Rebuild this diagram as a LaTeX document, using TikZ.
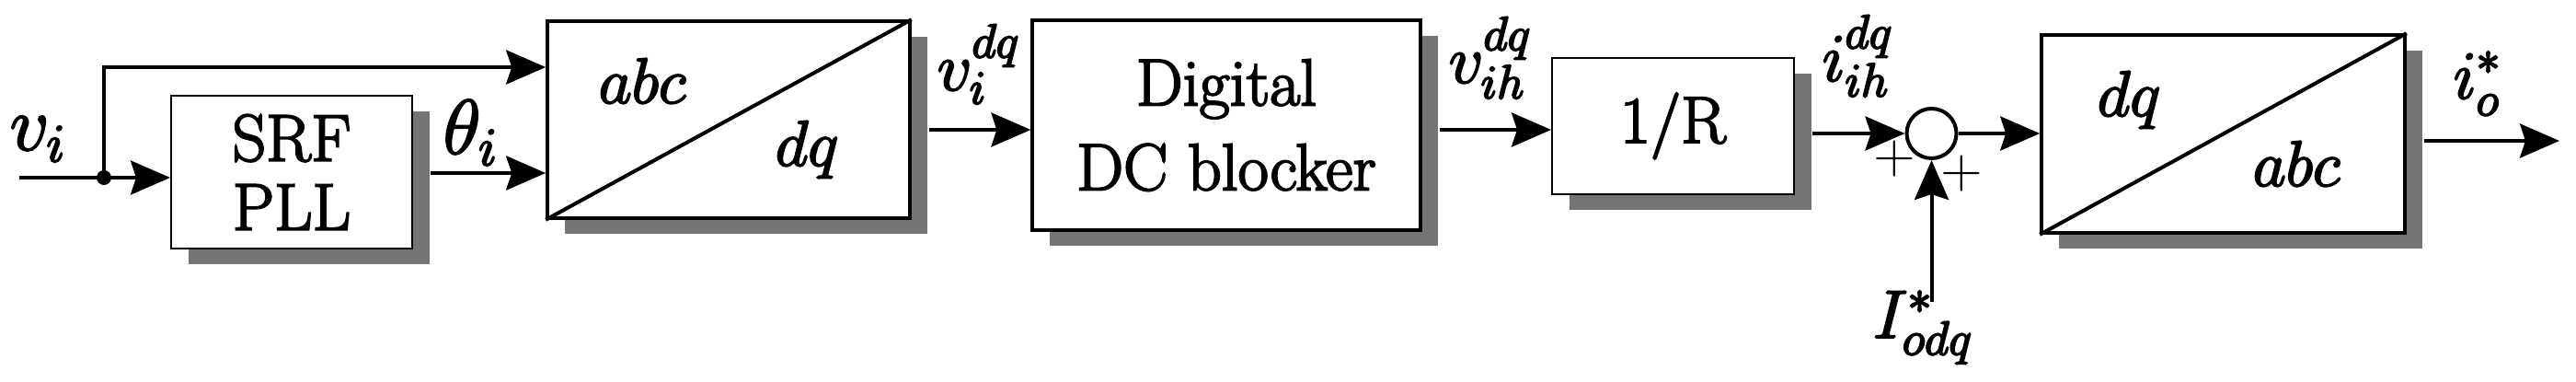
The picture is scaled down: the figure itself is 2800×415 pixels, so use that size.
\RequirePackage{fix-cm}
\documentclass[tikz,border=0pt]{standalone}
\usetikzlibrary{arrows.meta,shadows}
\begin{document}
\begin{tikzpicture}[x=0.25pt,y=-0.25pt,
  conn/.style={line width=1pt,-{Stealth[length=10.75pt,width=9.25pt,inset=1.5pt]}},
  blk/.style={draw,fill=white,inner sep=0pt,line width=#1,
     drop shadow={shadow xshift=4.75pt,shadow yshift=-4.25pt,opacity=1,fill=black!54}},
  blk/.default=0.5pt,
  heavy/.style={execute at begin node={\special{pdf:literal direct q 2 Tr 0.5 w}},
                execute at end node={\special{pdf:literal direct Q}}},
  boxtext/.style={heavy,font=\fontsize{18pt}{23pt}\selectfont,align=center},
  lbl/.style={heavy,inner sep=0pt,anchor=base west,font=\fontsize{18.5pt}{20pt}\selectfont},
  biglbl/.style={lbl,font=\fontsize{21pt}{22pt}\selectfont},
  conv/.style={heavy,inner sep=0pt,anchor=base west,font=\fontsize{17.5pt}{20pt}\selectfont},
  plus/.style={inner sep=0pt,font=\fontsize{15pt}{15pt}\selectfont},
]
\useasboundingbox (0,0) rectangle (2800,415);

% blocks
\node[blk,boxtext,minimum width=65.5pt,minimum height=41.5pt,font=\fontsize{18pt}{18.75pt}\selectfont] (srf) at (317,187) {SRF\\PLL};
\node[blk=0.9pt,minimum width=98.5pt,minimum height=53.5pt] (b1) at (792,130) {};
\draw[line width=1pt] (b1.south west) -- (b1.north east);
\node[conv] (b1a) at (650,112) {$abc$};
\node[conv] (b1b) at (842,180) {$dq$};
\node[blk=0.8pt,boxtext,minimum width=105.5pt,minimum height=57pt] (dc) at (1333,136) {Digital\\DC\ blocker};
\node[blk,boxtext,minimum width=65.75pt,minimum height=37pt] (r) at (1818.5,137) {1/R};
\node[draw,circle,line width=1pt,minimum size=13.5pt,inner sep=0pt] (sum) at (2099.5,145) {};
\node[blk=0.9pt,minimum width=98.75pt,minimum height=53.75pt] (b2) at (2416.5,145.5) {};
\draw[line width=1pt] (b2.south west) -- (b2.north east);
\node[conv] (b2a) at (2279,126) {$dq$};
\node[conv] (b2b) at (2448,202) {$abc$};

% coordinates
\coordinate (vin) at (21,193);
\node[circle,fill,inner sep=0pt,minimum size=4pt] (jn) at (113,193) {};
\coordinate (iref) at (2099.5,328);
\coordinate (out) at (2782,153);
\coordinate (srfo) at ([xshift=4.75pt,yshift=-0.25pt]srf.east);
\coordinate (b1o) at ([xshift=4.75pt,yshift=-2.75pt]b1.east);
\coordinate (dco) at ([xshift=4.75pt,yshift=-1.25pt]dc.east);
\coordinate (ro) at ([xshift=4.75pt,yshift=-2pt]r.east);
\coordinate (b2o) at ([xshift=4.75pt,yshift=-1.875pt]b2.east);

% connectors
\draw[conn] (vin) -- (vin -| srf.west);
\draw[conn] (jn.center) |- ([yshift=14.25pt]b1.west);
\draw[conn] (srfo) -- (srfo -| b1.west);
\draw[conn] (b1o) -- (b1o -| dc.west);
\draw[conn] (dco) -- (dco -| r.west);
\draw[conn] (ro) -- (ro -| sum.west);
\draw[conn] (sum.east) -- (sum.east -| b2.west);
\draw[conn] (iref) -- (sum.south);
\draw[conn] (b2o) -- (out);

% signs
\node[plus] (p1) at (2059,173) {$+$};
\node[plus] (p2) at (2132,189) {$+$};

% labels
\node[biglbl] (lvi) at (10,163) {$v_i$};
\node[biglbl] (lth) at (481,167) {$\theta_i$};
\node[lbl] (lvdq) at (1018,98) {$v_i^{dq}$};
\node[lbl] (lvih) at (1574,90) {$v_{ih}^{dq}$};
\node[lbl] (liih) at (1980,88) {$i_{ih}^{dq}$};
\node[lbl] (lI) at (2035,367) {$I_{odq}^{*}$};
\node[lbl] (lio) at (2666,107) {$i_o^{*}$};
\end{tikzpicture}
\end{document}
